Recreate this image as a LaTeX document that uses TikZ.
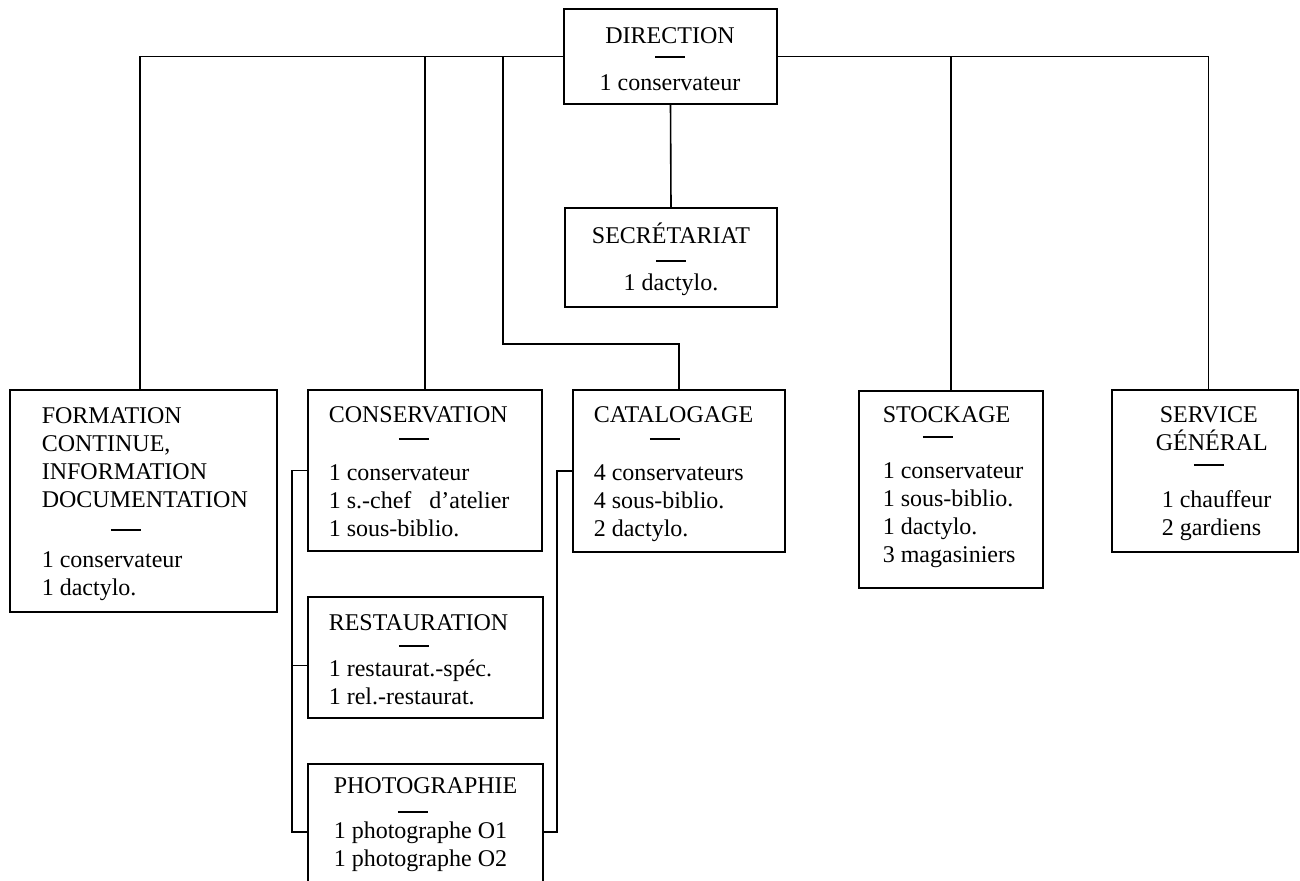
\documentclass[tikz,border=0pt]{standalone}
\usepackage{fontspec}
\setmainfont{Liberation Serif}
\usetikzlibrary{fit}
\newcommand{\haut}{\rule{0pt}{11pt}}
\newcommand{\trait}[1][0pt]{\hspace*{#1}\rule{15pt}{0.8pt}}

\begin{document}
\begin{tikzpicture}[x=0.5pt,y=-0.5pt,line width=0.8pt,
    boite/.style={draw,rectangle,inner sep=0pt},
    texte/.style={inner sep=0pt,align=left,anchor=north west,
      font=\fontsize{12}{14}\selectfont}]
    \useasboundingbox (0,0) rectangle (1300,881);
    \clip (0,0) rectangle (1300,881);
    % les cadres
    \node[boite,fit={(564,9) (777,104)}] (dir) {};
    \node[boite,fit={(565,208) (777,307)}] (sec) {};
    \node[boite,fit={(10,390) (277,612)}] (form) {};
    \node[boite,fit={(308,390) (542,551)}] (cons) {};
    \node[boite,fit={(308,597) (543,718)}] (rest) {};
    \node[boite,fit={(308,764) (543,895)}] (photo) {};
    \node[boite,fit={(573,390) (785,552)}] (cata) {};
    \node[boite,fit={(859,391) (1043,588)}] (stock) {};
    \node[boite,fit={(1112,390) (1298,552)}] (serv) {};
    % les textes
    \node[texte,align=center,anchor=north] (dir-t) at (670,21)
        {\haut DIRECTION\\[-7pt]\trait\\[2.5pt]1 conservateur};
    \node[texte,align=center,anchor=north] (sec-t) at (671,221)
        {\haut SECRÉTARIAT\\[-5pt]\trait\\[0.5pt]1 dactylo.};
    \node[texte] (form-t) at (41,401)
        {\haut FORMATION\\CONTINUE,\\INFORMATION\\DOCUMENTATION\\[-2.5pt]%
         \trait[34.5pt]\\[4.5pt]1 conservateur\\1 dactylo.};
    \node[texte] (cons-t) at (328,400)
        {\haut CONSERVATION\\[-5.5pt]\trait[35pt]\\[6.5pt]1 conservateur\\%
         1 s.-chef\hspace{9pt}d’atelier\\1 sous-biblio.};
    \node[texte] (rest-t) at (328,608)
        {\haut RESTAURATION\\[-6pt]\trait[35pt]\\[1pt]1 restaurat.-spéc.\\1 rel.-restaurat.};
    \node[texte] (photo-t) at (333,771)
        {\haut PHOTOGRAPHIE\\[-4.5pt]\trait[32pt]\\[-1pt]1 photographe O1\\1 photographe O2};
    \node[texte] (cata-t) at (593,400)
        {\haut CATALOGAGE\\[-5.5pt]\trait[28pt]\\[6.5pt]4 conservateurs\\4 sous-biblio.\\2 dactylo.};
    \node[texte] (stock-t) at (882,400)
        {\haut STOCKAGE\\[-6.5pt]\trait[20pt]\\[6.5pt]1 conservateur\\1 sous-biblio.\\%
         1 dactylo.\\3 magasiniers};
    \node[texte] (serv-t) at (1155,400)
        {\haut\hspace*{2pt}SERVICE\\GÉNÉRAL\\[-6.5pt]\trait[19pt]\\[7pt]%
         \hspace*{3pt}1 chauffeur\\\hspace*{3pt}2 gardiens};
    % les liaisons
    \coordinate (coude) at (503,344);
    \draw (dir.west) -| ([xshift=-1.75pt]form.north);
    \draw (dir.west) -| (cons.north);
    \draw (dir.west) -| (coude) -| (cata.north);
    \draw (dir.east) -| (stock.north);
    \draw (dir.east) -| ([xshift=1.75pt]serv.north);
    \draw (dir.south) -- (sec.north);
    % crochets
    \coordinate (bas-g) at (292,832);
    \coordinate (bas-d) at (557,832);
    \draw (cons.west) -| (bas-g) -- (bas-g -| photo.west);
    \draw ([yshift=-4pt]rest.west) -| (bas-g);
    \draw (cata.west) -| (bas-d) -- (bas-d -| photo.east);
\end{tikzpicture}
\end{document}
